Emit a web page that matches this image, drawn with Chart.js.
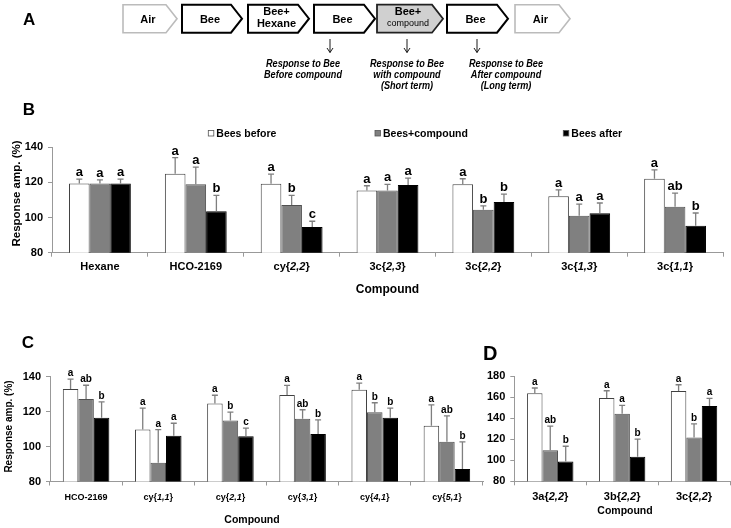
<!DOCTYPE html>
<html>
<head>
<meta charset="utf-8">
<script src="https://cdn.jsdelivr.net/npm/chart.js@4.4.0/dist/chart.umd.min.js"></script>
<style>
  body { margin: 0; width: 731px; height: 528px; background: #fff; position: relative; overflow: hidden; }
  canvas { position: absolute; }
  #ov { position: absolute; left: 0; top: 0; pointer-events: none; }
</style>
</head>
<body>
<canvas id="cB" width="731" height="210" style="left:0;top:95px"></canvas>
<canvas id="cC" width="490" height="198" style="left:0;top:330px"></canvas>
<canvas id="cD" width="251" height="198" style="left:480px;top:330px"></canvas>
<svg id="ov" width="731" height="528"></svg>
<script>
const FONT = '"Liberation Sans", Arial, sans-serif';

// panel B
const catsB = ['Hexane', 'HCO-2169', 'cy{2,2}', '3c{2,3}', '3c{2,2}', '3c{1,3}', '3c{1,1}'];
const beforeB = [119.4, 125, 119.2, 115.4, 118.9, 112.2, 122.1];
const withB = [119.4, 118.9, 107.2, 115.4, 104.4, 101.1, 106.1];
const afterB = [119.4, 103.6, 94.7, 118.5, 108.8, 102.5, 95.4];
const errBeforeB = [2.5, 9.1, 5.5, 2.7, 3.2, 3.6, 5.1];
const errWithB = [2.1, 9.8, 5.4, 3.5, 2.3, 6.5, 7.8];
const errAfterB = [2.5, 9, 3.2, 4, 4.5, 5.8, 7.2];
const letBeforeB = ['a', 'a', 'a', 'a', 'a', 'a', 'a'];
const letWithB = ['a', 'a', 'b', 'a', 'b', 'a', 'ab'];
const letAfterB = ['a', 'b', 'c', 'a', 'b', 'a', 'b'];

// panel C
const catsC = ['HCO-2169', 'cy{1,1}', 'cy{2,1}', 'cy{3,1}', 'cy{4,1}', 'cy{5,1}'];
const beforeC = [132.8, 109.7, 124.6, 129.5, 132.4, 111.8];
const withC = [127.2, 90.7, 114.9, 115.8, 119.6, 102.7];
const afterC = [116.4, 106.1, 105.9, 107.2, 116.4, 87.2];
const errBeforeC = [5.7, 12.2, 4.7, 5.4, 3.8, 12];
const errWithC = [7.8, 19, 4.7, 5.2, 5.4, 14.8];
const errAfterC = [9.1, 7.2, 4.6, 8, 5.5, 15.5];
const letBeforeC = ['a', 'a', 'a', 'a', 'a', 'a'];
const letWithC = ['ab', 'a', 'b', 'ab', 'b', 'ab'];
const letAfterC = ['b', 'a', 'c', 'b', 'b', 'b'];

// panel D
const catsD = ['3a{2,2}', '3b{2,2}', '3c{2,2}'];
const beforeD = [163.5, 159, 165.7];
const withD = [109.5, 144.1, 121.6];
const afterD = [98.7, 103.2, 151.4];
const errBeforeD = [5.1, 7, 6];
const errWithD = [22.9, 8, 13];
const errAfterD = [14.6, 16.8, 7.3];
const letBeforeD = ['a', 'a', 'a'];
const letWithD = ['ab', 'a', 'b'];
const letAfterD = ['b', 'b', 'a'];

const seriesNames = ['Bees before', 'Bees+compound', 'Bees after'];
const barFill = ['#ffffff', '#808080', '#000000'];
const barEdge = ['#404040', '#505050', '#000000'];

// label like cy{2,2}: part inside the braces is italic
function drawLabel(ctx, text, cx, y, size) {
  const m = text.match(/^(.*\{)(.*)(\}.*)$/);
  const parts = m ? [[m[1], ''], [m[2], 'italic '], [m[3], '']] : [[text, '']];
  let w = 0;
  parts.forEach(p => { ctx.font = p[1] + 'bold ' + size + 'px ' + FONT; w += ctx.measureText(p[0]).width; });
  let xx = cx - w / 2;
  ctx.textAlign = 'left';
  parts.forEach(p => {
    ctx.font = p[1] + 'bold ' + size + 'px ' + FONT;
    ctx.fillText(p[0], xx, y);
    xx += ctx.measureText(p[0]).width;
  });
}

const marks = {
  id: 'marks',
  afterDatasetsDraw(chart, args, o) {
    const { ctx, scales: { x, y }, chartArea } = chart;
    ctx.save();
    ctx.textBaseline = 'alphabetic';
    chart.data.datasets.forEach((ds, i) => {
      chart.getDatasetMeta(i).data.forEach((bar, j) => {
        const top = y.getPixelForValue(ds.data[j] + ds.err[j]);
        ctx.strokeStyle = '#7f7f7f';
        ctx.lineWidth = 1.3;
        ctx.beginPath();
        ctx.moveTo(bar.x, bar.y);
        ctx.lineTo(bar.x, top);
        ctx.moveTo(bar.x - o.cap, top);
        ctx.lineTo(bar.x + o.cap, top);
        ctx.stroke();
        ctx.fillStyle = '#000';
        ctx.font = 'bold ' + o.letterSize + 'px ' + FONT;
        ctx.textAlign = 'center';
        ctx.fillText(ds.letters[j], bar.x, top - 3);
      });
    });
    ctx.fillStyle = '#000';
    chart.data.labels.forEach((lab, j) => drawLabel(ctx, lab, x.getPixelForTick(j), o.labelY, o.labelSize));
    ctx.font = 'bold ' + o.titleSize + 'px ' + FONT;
    ctx.textAlign = 'center';
    const tx = o.titleX != null ? o.titleX : (chartArea.left + chartArea.right) / 2;
    ctx.fillText('Compound', tx, o.titleY);
    if (o.yTitle) {
      ctx.translate(o.yTitleX, o.yTitleY);
      ctx.rotate(-Math.PI / 2);
      ctx.font = 'bold ' + o.yTitleSize + 'px ' + FONT;
      ctx.textBaseline = 'middle';
      ctx.fillText(o.yTitle, 0, 0);
    }
    ctx.restore();
  }
};

function makeChart(id, cats, series, errs, lets, o) {
  const datasets = series.map((d, k) => ({
    label: seriesNames[k],
    data: d,
    err: errs[k],
    letters: lets[k],
    backgroundColor: barFill[k],
    borderColor: barEdge[k],
    borderWidth: 1,
    borderSkipped: false,
    categoryPercentage: 0.645,
    barPercentage: 1
  }));
  const axisGrid = { drawOnChartArea: false, drawTicks: true, tickLength: 4, color: '#999' };
  return new Chart(document.getElementById(id), {
    type: 'bar',
    data: { labels: cats, datasets },
    options: {
      responsive: false,
      animation: false,
      events: [],
      layout: { padding: { top: o.padTop, right: o.padRight, left: 0, bottom: 0 } },
      plugins: { legend: { display: false }, tooltip: { enabled: false }, marks: o },
      scales: {
        x: {
          ticks: { display: false },
          grid: axisGrid,
          border: { color: '#999', width: 1 },
          afterFit: s => { s.height = o.xHeight; }
        },
        y: {
          min: o.min,
          max: o.max,
          ticks: { stepSize: 20, padding: 5, color: '#000', font: { family: FONT, size: 11, weight: 'bold' } },
          grid: axisGrid,
          border: { color: '#999', width: 1 },
          afterFit: s => { s.width = o.yWidth; }
        }
      }
    },
    plugins: [marks]
  });
}

makeChart('cB', catsB, [beforeB, withB, afterB], [errBeforeB, errWithB, errAfterB], [letBeforeB, letWithB, letAfterB], {
  padTop: 52.3, padRight: 8, yWidth: 52, xHeight: 52.3, min: 80, max: 140,
  cap: 3, letterSize: 13, labelY: 175, labelSize: 11, titleSize: 12, titleY: 198,
  yTitle: 'Response amp. (%)', yTitleX: 17, yTitleY: 98.5, yTitleSize: 11.5
});
makeChart('cC', catsC, [beforeC, withC, afterC], [errBeforeC, errWithC, errAfterC], [letBeforeC, letWithC, letAfterC], {
  padTop: 46.5, padRight: 7, yWidth: 50, xHeight: 46.5, min: 80, max: 140,
  cap: 3, letterSize: 10, labelY: 170, labelSize: 9, titleSize: 10.5, titleX: 252, titleY: 193,
  yTitle: 'Response amp. (%)', yTitleX: 9, yTitleY: 96.5, yTitleSize: 10
});
makeChart('cD', catsD, [beforeD, withD, afterD], [errBeforeD, errWithD, errAfterD], [letBeforeD, letWithD, letAfterD], {
  padTop: 46, padRight: 1, yWidth: 34.3, xHeight: 46.7, min: 80, max: 180,
  cap: 3, letterSize: 10, labelY: 169.5, labelSize: 11, titleSize: 10.5, titleX: 145, titleY: 183.5
});

// panel A flow diagram, panel letters, legend
const flow = [
  { x: 123, w: 54, t: ['Air'], kind: 'air' },
  { x: 182, w: 60, t: ['Bee'], kind: 'bee' },
  { x: 248, w: 61, t: ['Bee+', 'Hexane'], kind: 'bee' },
  { x: 314, w: 61, t: ['Bee'], kind: 'bee' },
  { x: 377, w: 66, t: ['Bee+', 'compound'], kind: 'cmp' },
  { x: 447, w: 61, t: ['Bee'], kind: 'bee' },
  { x: 515, w: 55, t: ['Air'], kind: 'air' }
];
const notes = [
  { x: 303, arrow: 330, t: ['Response to Bee', 'Before compound'] },
  { x: 407, arrow: 407, t: ['Response to Bee', 'with compound', '(Short term)'] },
  { x: 506, arrow: 477, t: ['Response to Bee', 'After compound', '(Long term)'] }
];

let svg = '';
const tip = 11, y0 = 4.7, y1 = 32.7;
flow.forEach(b => {
  const st = b.kind === 'air' ? 'fill="#fff" stroke="#bbb" stroke-width="1.6"'
    : b.kind === 'cmp' ? 'fill="#d0d0d0" stroke="#222" stroke-width="1.8"'
    : 'fill="#fff" stroke="#000" stroke-width="2"';
  svg += `<path d="M${b.x} ${y0}H${b.x + b.w - tip}L${b.x + b.w} ${(y0 + y1) / 2}L${b.x + b.w - tip} ${y1}H${b.x}Z" ${st}/>`;
  const cx = b.x + b.w / 2 - 2;
  if (b.t.length === 1) {
    svg += `<text x="${cx}" y="22.7" font-size="11" font-weight="bold" text-anchor="middle">${b.t[0]}</text>`;
  } else {
    svg += `<text x="${cx}" y="15" font-size="11" font-weight="bold" text-anchor="middle">${b.t[0]}</text>`;
    const small = b.kind === 'cmp';
    svg += `<text x="${cx}" y="${small ? 26 : 26.7}" font-size="${small ? 9 : 11}" font-weight="${small ? 'normal' : 'bold'}" text-anchor="middle">${b.t[1]}</text>`;
  }
});
notes.forEach(n => {
  svg += `<path d="M${n.arrow} 39V52.5M${n.arrow - 3} 48L${n.arrow} 52.5L${n.arrow + 3} 48" fill="none" stroke="#000" stroke-width="0.9"/>`;
  n.t.forEach((line, k) => {
    // condensed look of the original captions
    svg += `<text transform="translate(${n.x} ${66.5 + k * 11}) scale(0.83 1)" font-size="11" font-weight="bold" font-style="italic" text-anchor="middle">${line}</text>`;
  });
});

const panelLetters = [['A', 23, 25, 17], ['B', 22.7, 115, 17], ['C', 21.7, 348.3, 17], ['D', 483, 360, 20]];
panelLetters.forEach(p => {
  svg += `<text x="${p[1]}" y="${p[2]}" font-size="${p[3]}" font-weight="bold">${p[0]}</text>`;
});

const legendX = [208.3, 375, 563.3];
seriesNames.forEach((name, k) => {
  svg += `<rect x="${legendX[k]}" y="130.5" width="5.5" height="5.5" fill="${barFill[k]}" stroke="#555" stroke-width="0.8"/>`;
  svg += `<text x="${legendX[k] + 8}" y="137.2" font-size="10.5" font-weight="bold">${name}</text>`;
});

const ov = document.getElementById('ov');
ov.setAttribute('font-family', FONT);
ov.innerHTML = svg;
</script>
</body>
</html>
